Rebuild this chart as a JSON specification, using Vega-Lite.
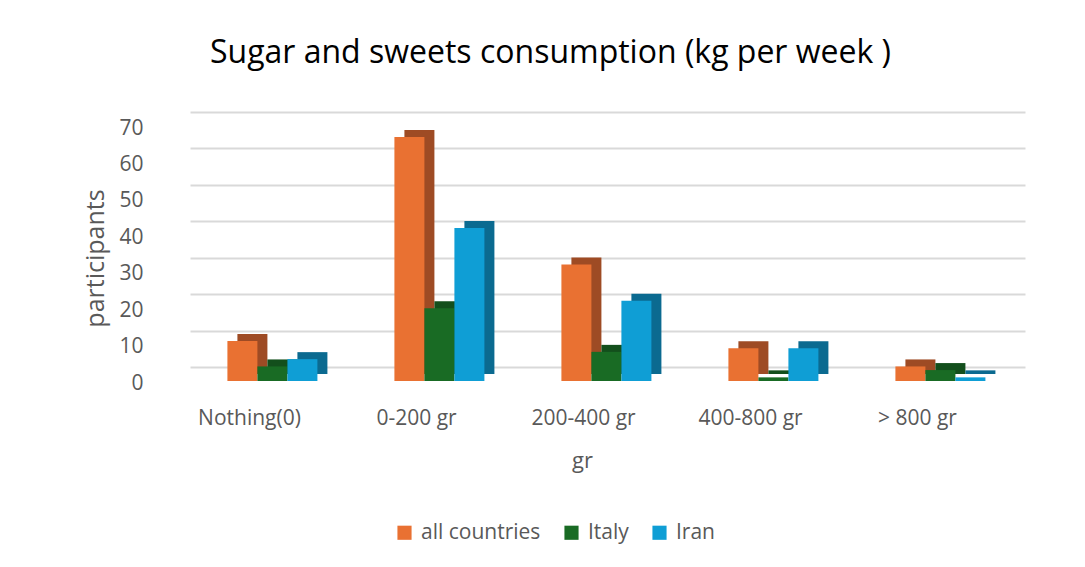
{
  "$schema": "https://vega.github.io/schema/vega-lite/v6.json",
  "autosize": {"type": "none"},
  "width": 835,
  "height": 255,
  "padding": {"left": 190, "top": 112, "right": 60, "bottom": 200},
  "background": "white",
  "title": {"text": "Sugar and sweets consumption (kg per week )", "fontSize": 32, "font": "Open Sans", "fontWeight": "normal", "color": "#000000", "anchor": "middle", "dx": -57, "offset": 42},
  "data": {"values": [
    {"cat": "Nothing(0)", "series": "all countries", "v": 11},
    {"cat": "Nothing(0)", "series": "Italy", "v": 4},
    {"cat": "Nothing(0)", "series": "Iran", "v": 6},
    {"cat": "0-200 gr", "series": "all countries", "v": 67},
    {"cat": "0-200 gr", "series": "Italy", "v": 20},
    {"cat": "0-200 gr", "series": "Iran", "v": 42},
    {"cat": "200-400 gr", "series": "all countries", "v": 32},
    {"cat": "200-400 gr", "series": "Italy", "v": 8},
    {"cat": "200-400 gr", "series": "Iran", "v": 22},
    {"cat": "400-800 gr", "series": "all countries", "v": 9},
    {"cat": "400-800 gr", "series": "Italy", "v": 1},
    {"cat": "400-800 gr", "series": "Iran", "v": 9},
    {"cat": "> 800 gr", "series": "all countries", "v": 4},
    {"cat": "> 800 gr", "series": "Italy", "v": 3},
    {"cat": "> 800 gr", "series": "Iran", "v": 1}
  ]},
  "encoding": {
    "x": {"field": "cat", "type": "nominal", "sort": ["Nothing(0)", "0-200 gr", "200-400 gr", "400-800 gr", "> 800 gr"],
      "scale": {"paddingInner": 0.46, "paddingOuter": 0.23},
      "axis": {"title": "gr", "labelAngle": 0, "labelFontSize": 21, "labelColor": "#595959", "labelFont": "Open Sans", "labelOffset": -24, "labelPadding": 40, "domain": false, "ticks": false, "titleFontSize": 22, "titleFont": "Open Sans", "titleFontWeight": "normal", "titleColor": "#595959", "titleX": 392, "titleY": 93, "titleBaseline": "middle"}},
    "y": {"field": "v", "type": "quantitative", "scale": {"domain": [0, 70]},
      "axis": {"title": "participants", "values": [0, 10, 20, 30, 40, 50, 60, 70], "labelFontSize": 21, "labelColor": "#595959", "labelFont": "Open Sans", "labelOffset": 16, "labelPadding": 47, "domain": false, "ticks": false, "gridColor": "#D9D9D9", "gridWidth": 2, "titleFontSize": 25, "titleFont": "Open Sans", "titleFontWeight": "normal", "titleColor": "#595959", "titleX": -95, "titleY": 146, "titleBaseline": "middle", "titleAlign": "center"}}
  },
  "layer": [
    {
      "mark": {"type": "bar", "yOffset": 7},
      "encoding": {
        "xOffset": {"field": "series", "type": "nominal", "sort": ["all countries", "Italy", "Iran"], "scale": {"paddingInner": 0, "paddingOuter": 0, "range": [9, 99]}},
        "color": {"field": "series", "type": "nominal", "sort": ["all countries", "Italy", "Iran"], "scale": {"range": ["#9E4B24", "#134F1C", "#0B6A90"]}, "legend": null}
      }
    },
    {
      "mark": {"type": "bar", "yOffset": 14},
      "encoding": {
        "xOffset": {"field": "series", "type": "nominal", "sort": ["all countries", "Italy", "Iran"], "scale": {"paddingInner": 0, "paddingOuter": 0, "range": [-1, 89]}},
        "color": {"field": "series", "type": "nominal", "sort": ["all countries", "Italy", "Iran"], "scale": {"range": ["#E97132", "#196B24", "#0F9ED5"]},
          "legend": {"title": null, "orient": "none", "legendX": 204, "legendY": 410, "direction": "horizontal", "symbolType": "square", "symbolSize": 200, "symbolStrokeWidth": 0, "labelFontSize": 21, "labelFont": "Open Sans", "labelColor": "#595959", "columnPadding": 20, "labelOffset": 6}}
      }
    }
  ],
  "resolve": {"scale": {"color": "independent", "xOffset": "independent"}},
  "config": {"view": {"stroke": null}}
}
